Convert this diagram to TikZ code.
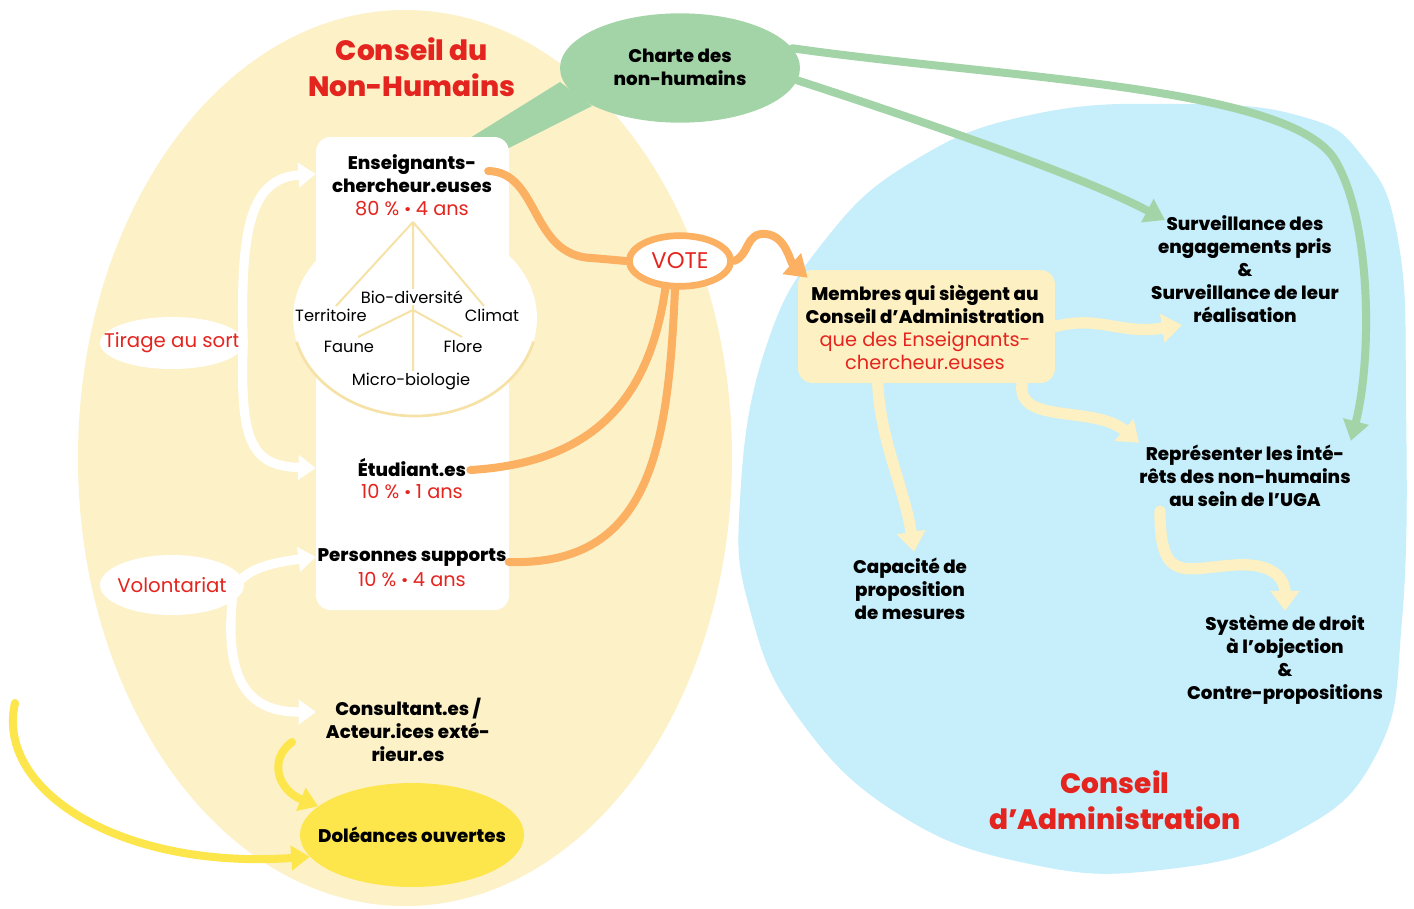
\documentclass[tikz,border=0pt]{standalone}
\usepackage{fontspec}
\setmainfont{Poppins}[BoldFont={* ExtraBold}]
\usetikzlibrary{arrows.meta,shapes.geometric,calc}
\definecolor{cream}{HTML}{FDF1C8}
\definecolor{creamline}{HTML}{F6E2A6}
\definecolor{cblue}{HTML}{C6EEFB}
\definecolor{cgreen}{HTML}{A3D4A7}
\definecolor{corange}{HTML}{FBB062}
\definecolor{cyellow}{HTML}{FDE64B}
\definecolor{cpale}{HTML}{FDF0C2}
\definecolor{cred}{HTML}{E4251F}
\newcommand{\sepdot}{{\bfseries ·}}
\begin{document}
\begin{tikzpicture}[x=0.75pt,y=-0.75pt,
  bt/.style={font=\fontsize{13.7}{17.3}\selectfont\bfseries, align=center, text=black, inner sep=0pt},
  rt/.style={font=\fontsize{14.5}{17.3}\selectfont, text=cred, align=center, inner sep=0pt},
  st/.style={font=\fontsize{12.2}{14}\selectfont, fill=white, inner sep=1pt},
  ttl/.style={font=\fontsize{21}{27}\selectfont\bfseries, text=cred, align=center, inner sep=0pt},
  wtext/.style={inner sep=0pt, font=\fontsize{14.8}{17}\selectfont, text=cred},
  arrO/.style={draw=corange, line width=6pt, line cap=round},
  arrG/.style={draw=cgreen, line width=6pt, line cap=round, -{Triangle[length=15pt,width=19pt]}},
  arrW/.style={draw=white, line width=7pt, line cap=round, -{Triangle[length=13pt,width=18pt]}},
  arrP/.style={draw=cpale, line width=8.5pt, line cap=round, -{Triangle[length=15pt,width=21pt]}},
  arrY/.style={draw=cyellow, line width=6pt, line cap=round, -{Triangle[length=14pt,width=18pt]}},
  tipO/.style={-{Triangle[length=16pt,width=20pt]}}
]
\useasboundingbox (0,0) rectangle (1414,908);
\fill[white] (0,0) rectangle (1414,908);

% backgrounds
\fill[cream] (405,458) ellipse [x radius=327, y radius=448];
\fill[cblue] plot[smooth cycle, tension=0.75] coordinates {(740,500) (765,350) (825,240) (915,160) (1035,114) (1180,104) (1300,116) (1362,156) (1398,240) (1406,400) (1402,620) (1376,755) (1290,835) (1160,870) (1030,864) (900,815) (800,720) (750,610)};

% green band and charter
\fill[cgreen] (470,138) -- (560,82) -- (592,106) -- (505,150) -- cycle;
\node[ellipse, fill=cgreen, minimum width=180pt, minimum height=82pt, inner sep=0pt] (charte) at (680,68) {};
\node[bt] (chartet) at (680,67) {Charte des\\non-humains};

% white box and circle
\node[rectangle, rounded corners=11pt, fill=white, minimum width=144.75pt, minimum height=354.75pt, inner sep=0pt] (wbox) at (412.5,373.5) {};
\fill[white] (415,318) ellipse [x radius=122, y radius=98];
\draw[creamline, line width=2pt] (415,318) ++(14:122 and 98) arc[start angle=14, end angle=166, x radius=122, y radius=98];

% inner tree
\coordinate (apex) at (413,222);
\coordinate (mid) at (413,310);
\draw[creamline, line width=1.5pt] (apex) -- (336,306) (apex) -- (484,306) (apex) -- (413,372) (mid) -- (358,337) (mid) -- (462,337);
\node[st] (bio) at (412,297) {Bio-diversité};
\node[st] (terr) at (331,315) {Territoire};
\node[st] (clim) at (492,315) {Climat};
\node[st] (faune) at (349,347) {Faune};
\node[st] (flore) at (463,347) {Flore};
\node[st] (micro) at (411,381) {Micro-biologie};

% ellipses
\fill[white] (172,343) ellipse [x radius=72, y radius=26];
\node[wtext] (tir) at (172,343) {Tirage au sort};
\fill[white] (172,585) ellipse [x radius=72, y radius=30];
\node[wtext] (vol) at (172,585) {Volontariat};
\node[ellipse, fill=cyellow, minimum width=168pt, minimum height=78pt, inner sep=0pt] (dol) at (412,835) {};
\node[ellipse, fill=white, draw=corange, line width=5pt, minimum width=76pt, minimum height=38pt, inner sep=0pt, font=\fontsize{17}{20}\selectfont, text=cred] (vote) at (680,261) {VOTE};

% members box
\node[rectangle, rounded corners=11pt, fill=cpale, minimum width=192.75pt, minimum height=84.75pt, inner sep=0pt] (mem) at (926.5,326.5) {};

% titles
\node[ttl] (t1) at (412,67) {Conseil du\\Non-Humains};
\node[ttl] (t2) at (1115,800) {Conseil\\d’Administration};

% texts
\node[bt] (ens) at (412,174) {Enseignants-\\chercheur.euses};
\node[rt] (ensp) at (412,209) {80 \% \sepdot{} 4 ans};
\node[bt] (etu) at (412,468) {Étudiant.es};
\node[rt] (etup) at (412,492) {10 \% \sepdot{} 1 ans};
\node[bt] (per) at (412,557) {Personnes supports};
\node[rt] (perp) at (412,580) {10 \% \sepdot{} 4 ans};
\node[bt] (cons) at (408,730) {Consultant.es /\\Acteur.ices exté-\\rieur.es};
\node[bt] (dolt) at (dol) {Doléances ouvertes};
\node[bt] (memt) at (925,304) {Membres qui siègent au\\Conseil d’Administration};
\node[rt] (memp) at (925,351) {que des Enseignants-\\chercheur.euses};
\node[bt] (surv) at (1245,269) {Surveillance des\\engagements pris\\\&\\Surveillance de leur\\réalisation};
\node[bt] (repr) at (1245,476) {Représenter les inté-\\rêts des non-humains\\au sein de l’UGA};
\node[bt] (cap) at (910,589) {Capacité de\\proposition\\de mesures};
\node[bt] (sys) at (1285,660) {Système de droit\\à l’objection\\\&\\Contre-propositions};

% orange arrows
\draw[arrO] ([shift={(-4,-3)}]ens.east) .. controls (540,172) and (530,256) .. (592,258) -- (vote.west);
\draw[arrO] ([shift={(4,2)}]etu.east) .. controls (610,462) and (652,380) .. (vote.-118);
\draw[arrO] ([shift={(2,5)}]per.east) .. controls (650,566) and (668,450) .. (vote.-100);
\draw[arrO, tipO] (vote.east) .. controls (750,255) and (745,232) .. (766,234) .. controls (786,236) and (790,262) .. ([shift={(10,8)}]mem.north west);

% green arrows
\coordinate (survin) at (1165,220);
\draw[arrG] (charte.10) .. controls (1000,78) and (1290,86) .. (1335,160) .. controls (1372,222) and (1372,360) .. ([shift={(0,-4)}]repr.north east);
\draw[arrG] (charte.-6) .. controls (950,130) and (1090,180) .. (survin);

% pale arrows
\coordinate (survside) at (1182,325);
\draw[arrP] (mem.east) .. controls (1100,315) and (1120,335) .. (survside);
\draw[arrP] ([shift={(-33,0)}]mem.south east) .. controls (1015,425) and (1095,405) .. ([shift={(0,-2)}]repr.north west);
\draw[arrP] ([shift={(80,0)}]mem.south west) .. controls (880,440) and (905,490) .. ([shift={(4,-6)}]cap.north);
\draw[arrP] ([shift={(-85,4)}]repr.south) .. controls (1160,585) and (1185,568) .. (1235,565) .. controls (1280,562) and (1285,585) .. ([shift={(0,-4)}]sys.north);

% white arrows
\draw[arrW] ([shift={(3,0)}]tir.east) .. controls (240,230) and (250,178) .. (wbox.west |- ens.center);
\draw[arrW] ([shift={(3,0)}]tir.east) .. controls (240,440) and (250,466) .. (wbox.west |- etu.center);
\coordinate (consin) at (316,712);
\draw[arrW] ([shift={(6,8)}]vol.east) .. controls (240,572) and (262,564) .. (wbox.west |- per.center);
\draw[arrW] ([shift={(6,8)}]vol.east) .. controls (222,690) and (255,712) .. (consin);

% yellow arrows
\coordinate (consout) at (292,742);
\coordinate (farstart) at (15,703);
\draw[arrY] (consout) .. controls (268,760) and (278,790) .. (dol.163);
\draw[arrY] (farstart) .. controls (-5,790) and (120,870) .. (dol.192);
\end{tikzpicture}
\end{document}
